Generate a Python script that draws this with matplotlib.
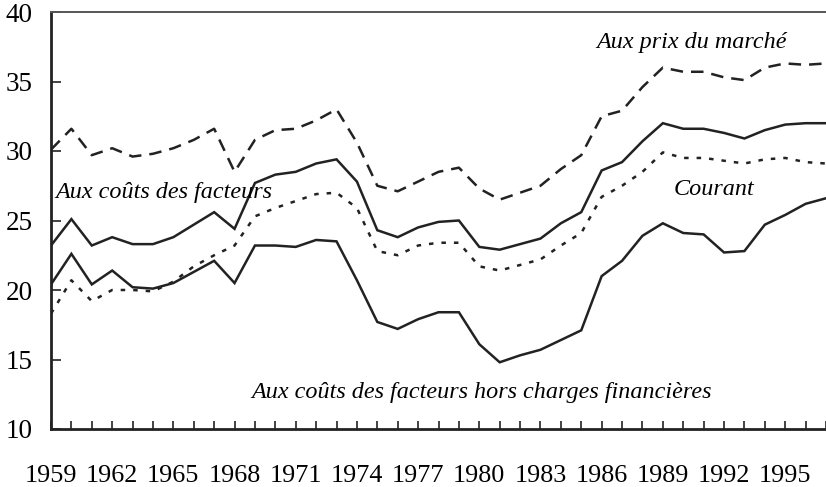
import numpy as np
import matplotlib
matplotlib.use("Agg")
import matplotlib.pyplot as plt

# years of the series (1959 -> 1997, last point cut by the right border)
years = np.arange(1959, 1998)

# Aux prix du marché (dashed)
prix_marche = [30.1, 31.6, 29.7, 30.2, 29.6, 29.8, 30.2, 30.8, 31.6, 28.5,
               30.8, 31.5, 31.6, 32.2, 33.0, 30.6, 27.5, 27.1, 27.8, 28.5,
               28.8, 27.3, 26.5, 27.0, 27.5, 28.7, 29.7, 32.5, 32.9, 34.6,
               36.0, 35.7, 35.7, 35.3, 35.1, 36.0, 36.3, 36.2, 36.3]

# Aux coûts des facteurs (solid, upper)
couts_facteurs = [23.2, 25.1, 23.2, 23.8, 23.3, 23.3, 23.8, 24.7, 25.6, 24.4,
                  27.7, 28.3, 28.5, 29.1, 29.4, 27.8, 24.3, 23.8, 24.5, 24.9,
                  25.0, 23.1, 22.9, 23.3, 23.7, 24.8, 25.6, 28.6, 29.2, 30.7,
                  32.0, 31.6, 31.6, 31.3, 30.9, 31.5, 31.9, 32.0, 32.0]

# Courant (dotted)
courant = [18.3, 20.7, 19.2, 20.0, 20.0, 19.9, 20.6, 21.7, 22.5, 23.2,
           25.3, 25.9, 26.4, 26.9, 27.0, 25.9, 22.8, 22.5, 23.2, 23.4,
           23.4, 21.7, 21.4, 21.8, 22.2, 23.2, 24.1, 26.7, 27.5, 28.5,
           29.9, 29.5, 29.5, 29.3, 29.1, 29.4, 29.5, 29.2, 29.1]

# Aux coûts des facteurs hors charges financières (solid, lower)
hors_charges = [20.4, 22.6, 20.4, 21.4, 20.2, 20.1, 20.5, 21.3, 22.1, 20.5,
                23.2, 23.2, 23.1, 23.6, 23.5, 20.7, 17.7, 17.2, 17.9, 18.4,
                18.4, 16.1, 14.8, 15.3, 15.7, 16.4, 17.1, 21.0, 22.1, 23.9,
                24.8, 24.1, 24.0, 22.7, 22.8, 24.7, 25.4, 26.2, 26.6]

label_years = np.arange(1959, 1996, 3)

plt.rcParams['font.family'] = ['Liberation Serif', 'DejaVu Serif']

fig = plt.figure(figsize=(8.26, 4.87), dpi=100)
ax = fig.add_axes([51 / 826, 1 - 429 / 487, 1 - 51 / 826, (429 - 12) / 487])

col = '#222222'
lw = 1.8
ax.plot(years, prix_marche, color=col, lw=lw, ls=(0, (5, 3.2)))
ax.plot(years, couts_facteurs, color=col, lw=lw, solid_joinstyle='miter')
ax.plot(years, courant, color=col, lw=lw, ls=(0, (1.8, 3.2)))
ax.plot(years, hors_charges, color=col, lw=lw, solid_joinstyle='miter')

ax.set_xlim(1959, 1996.7)
ax.set_ylim(10, 40)

ax.set_xticks(label_years)
ax.set_xticks(years, minor=True)
ax.set_xticklabels([str(y) for y in label_years])
ax.set_yticks(np.arange(10, 41, 5))

ax.tick_params(axis='x', which='both', direction='in', length=6, width=1.2,
               color=col, labelsize=18.8, pad=26)
ax.tick_params(axis='y', which='major', direction='in', length=7, width=1.2,
               color=col, labelsize=19.5, pad=13)

for s in ['left', 'bottom']:
    ax.spines[s].set_linewidth(2)
    ax.spines[s].set_color(col)
ax.spines['top'].set_linewidth(1.4)
ax.spines['top'].set_color('#555555')
ax.spines['right'].set_visible(False)

txt = dict(fontsize=17.4, style='italic', color='black')
ax.text(1990.4, 37.8, 'Aux prix du marché', ha='center', va='center', **txt)
ax.text(1959.2, 27.0, 'Aux coûts des facteurs', ha='left', va='center', **txt)
ax.text(1991.5, 27.2, 'Courant', ha='center', va='center', **txt)
ax.text(1980.1, 12.66, 'Aux coûts des facteurs hors charges financières',
        ha='center', va='center', **txt)

fig.savefig('out.png', dpi=100)
